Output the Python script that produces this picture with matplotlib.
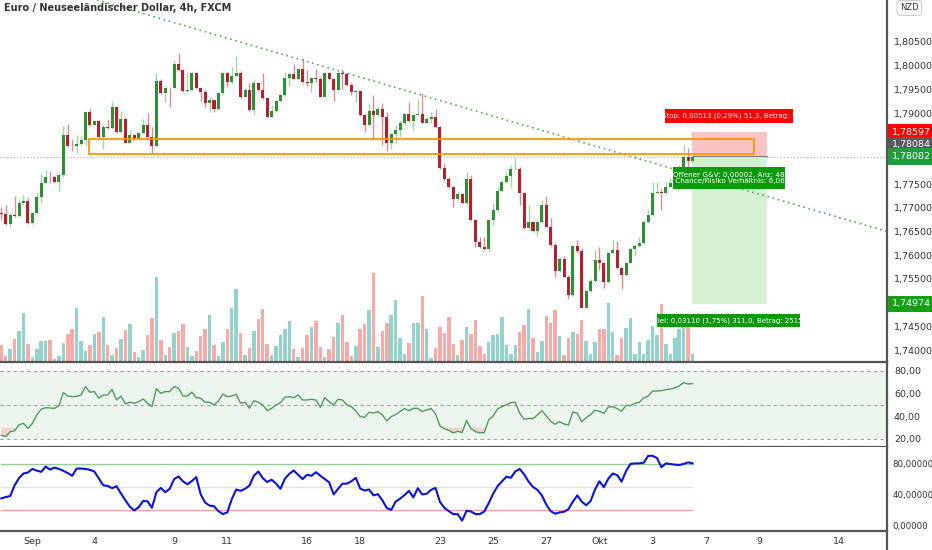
import numpy as np
import matplotlib
matplotlib.use("Agg")
import matplotlib.pyplot as plt
import matplotlib.transforms as mtransforms
from matplotlib.patches import Rectangle
from matplotlib.ticker import FuncFormatter

plt.rcParams['font.family'] = ['Liberation Sans Narrow', 'DejaVu Sans']

# --- Kerzen (4h EUR/NZD) ---
first_open = 1.76884
close = [
    1.76870, 1.76660, 1.76849, 1.76828, 1.77095, 1.77152, 1.76674, 1.76884, 1.77236, 1.77531,
    1.77657, 1.77643, 1.77552, 1.77686, 1.78536, 1.78305, 1.78298, 1.78347, 1.78431, 1.79022,
    1.78747, 1.78832, 1.78501, 1.78712, 1.78677, 1.79120, 1.78593, 1.78874, 1.78375, 1.78536,
    1.78445, 1.78586, 1.78747, 1.78501, 1.78305, 1.79675, 1.79415, 1.79535, 1.79521, 1.80034,
    1.79907, 1.79464, 1.79486, 1.79851, 1.79521, 1.79450, 1.79204, 1.79268, 1.79092, 1.79415,
    1.79837, 1.79661, 1.79781, 1.79851, 1.79345, 1.79486, 1.79064, 1.79626, 1.79486, 1.79310,
    1.78923, 1.79050, 1.79253, 1.79380, 1.79746, 1.79816, 1.79717, 1.79921, 1.79661, 1.79626,
    1.79732, 1.79717, 1.79345, 1.79851, 1.79710, 1.79486, 1.79837, 1.79816, 1.79591, 1.79450,
    1.79464, 1.78958, 1.78747, 1.79050, 1.78958, 1.79085, 1.78909, 1.78361, 1.78558, 1.78642,
    1.78782, 1.78979, 1.78839, 1.78958, 1.78979, 1.78797, 1.78881, 1.78916, 1.78698, 1.77834,
    1.77615, 1.77433, 1.77180, 1.77292, 1.77095, 1.77601, 1.76744, 1.76280, 1.76167, 1.76125,
    1.76744, 1.76955, 1.77362, 1.77552, 1.77672, 1.77812, 1.77826, 1.77306, 1.76582, 1.76709,
    1.76512, 1.76709, 1.77060, 1.76603, 1.76217, 1.75675, 1.75914, 1.75549, 1.75162, 1.76195,
    1.76097, 1.74895, 1.75246, 1.75464, 1.75900, 1.75844, 1.75443, 1.76055, 1.76111, 1.75724,
    1.75584, 1.75844, 1.76125, 1.76195, 1.76252, 1.76709, 1.76849, 1.77320, 1.77341, 1.77306,
    1.77447, 1.77531, 1.77692, 1.77869, 1.78065, 1.77995, 1.78082]
high = [
    1.77025, 1.77060, 1.76884, 1.77250, 1.77180, 1.77271, 1.77201, 1.76920, 1.77306, 1.77707,
    1.77798, 1.77784, 1.77692, 1.77728, 1.78726, 1.78768, 1.78445, 1.78536, 1.78515, 1.79050,
    1.79099, 1.78853, 1.78853, 1.78747, 1.78867, 1.79253, 1.79148, 1.79050, 1.78909, 1.78642,
    1.78558, 1.78607, 1.78867, 1.78994, 1.78698, 1.79851, 1.79710, 1.79556, 1.79542, 1.80118,
    1.80259, 1.79921, 1.79851, 1.79872, 1.79872, 1.79556, 1.79486, 1.79345, 1.79275, 1.79429,
    1.79872, 1.79858, 1.79978, 1.80203, 1.79893, 1.79521, 1.79626, 1.79710, 1.79661, 1.79851,
    1.79345, 1.79169, 1.79275, 1.79415, 1.79872, 1.79837, 1.80027, 1.79942, 1.80153, 1.79907,
    1.79753, 1.79921, 1.79767, 1.79872, 1.79858, 1.79732, 1.79851, 1.79921, 1.79851, 1.79626,
    1.79486, 1.79486, 1.78979, 1.79204, 1.79380, 1.79134, 1.79204, 1.79029, 1.78572, 1.78747,
    1.78853, 1.78994, 1.79225, 1.78979, 1.79289, 1.79415, 1.78923, 1.79022, 1.79078, 1.78726,
    1.77939, 1.77657, 1.77461, 1.77362, 1.77320, 1.77763, 1.77692, 1.76758, 1.76378, 1.76392,
    1.76779, 1.77095, 1.77447, 1.77587, 1.77763, 1.77904, 1.78044, 1.77869, 1.77341, 1.77060,
    1.76730, 1.76744, 1.77166, 1.77250, 1.76779, 1.76252, 1.75971, 1.75985, 1.75584, 1.76217,
    1.76322, 1.76146, 1.75268, 1.75492, 1.76111, 1.76181, 1.75865, 1.76076, 1.76322, 1.76301,
    1.75760, 1.75865, 1.76146, 1.76238, 1.76392, 1.76744, 1.76955, 1.77552, 1.77552, 1.77412,
    1.77552, 1.77622, 1.77834, 1.77904, 1.78326, 1.78255, 1.78115]
low = [
    1.76744, 1.76639, 1.76589, 1.76814, 1.76814, 1.77081, 1.76660, 1.76660, 1.76870, 1.77109,
    1.77517, 1.77531, 1.77531, 1.77362, 1.77657, 1.78276, 1.78206, 1.78164, 1.78333, 1.78305,
    1.78726, 1.78740, 1.78445, 1.78234, 1.78656, 1.78656, 1.78579, 1.78572, 1.78361, 1.78361,
    1.78431, 1.78445, 1.78558, 1.78487, 1.78150, 1.78290, 1.79401, 1.79239, 1.79120, 1.79521,
    1.79893, 1.79450, 1.79415, 1.79486, 1.79507, 1.79261, 1.79099, 1.79029, 1.79029, 1.79064,
    1.79394, 1.79556, 1.79640, 1.79767, 1.79310, 1.79331, 1.79050, 1.78958, 1.79471, 1.79296,
    1.78909, 1.78923, 1.79029, 1.79239, 1.79366, 1.79577, 1.79710, 1.79696, 1.79626, 1.79570,
    1.79450, 1.79661, 1.79331, 1.79331, 1.79696, 1.79261, 1.79471, 1.79500, 1.79570, 1.79380,
    1.79239, 1.78944, 1.78607, 1.78726, 1.78431, 1.78937, 1.78326, 1.78206, 1.78234, 1.78361,
    1.78501, 1.78747, 1.78818, 1.78642, 1.78958, 1.78782, 1.78782, 1.78782, 1.78677, 1.77819,
    1.77573, 1.77412, 1.77025, 1.77166, 1.77081, 1.77081, 1.76730, 1.76167, 1.76153, 1.76111,
    1.76076, 1.76639, 1.76941, 1.77362, 1.77531, 1.77433, 1.77798, 1.77060, 1.76561, 1.76533,
    1.76498, 1.76414, 1.76688, 1.76589, 1.76203, 1.75549, 1.75654, 1.75535, 1.75071, 1.75141,
    1.76041, 1.74881, 1.74881, 1.75225, 1.75443, 1.75689, 1.75303, 1.75422, 1.76041, 1.75703,
    1.75282, 1.75563, 1.75830, 1.75985, 1.76181, 1.76238, 1.76674, 1.76828, 1.77306, 1.76955,
    1.77292, 1.77433, 1.77517, 1.77657, 1.77848, 1.77869, 1.77974]
volume = [
    52, 18, 40, 68, 92, 148, 54, 15, 38, 62,
    64, 66, 10, 18, 58, 85, 100, 163, 62, 33,
    52, 84, 90, 136, 50, 20, 42, 68, 96, 115,
    30, 15, 35, 80, 132, 256, 65, 20, 44, 88,
    92, 115, 44, 18, 32, 78, 100, 142, 52, 18,
    60, 100, 162, 220, 88, 20, 42, 92, 128, 160,
    54, 20, 48, 80, 98, 122, 38, 14, 42, 80,
    104, 122, 45, 15, 38, 76, 118, 142, 60, 18,
    48, 98, 114, 156, 268, 44, 94, 118, 140, 185,
    73, 25, 58, 118, 116, 198, 100, 13, 42, 105,
    87, 134, 54, 22, 67, 106, 85, 126, 48, 24,
    60, 81, 84, 135, 52, 25, 50, 90, 110, 160,
    72, 30, 62, 138, 117, 156, 78, 22, 72, 90,
    84, 125, 64, 25, 60, 98, 98, 177, 90, 22,
    73, 102, 132, 24, 60, 25, 65, 108, 80, 175,
    55, 25, 72, 100, 120, 115, 24]
rsi = [
    23.2, 22.1, 26.5, 27.1, 32.6, 33.8, 29.4, 33.8, 41.2, 46.2,
    47.6, 47.3, 47.0, 49.4, 60.9, 57.9, 57.3, 57.6, 58.8, 66.2,
    61.2, 61.8, 55.9, 58.8, 58.8, 63.8, 54.4, 57.9, 50.9, 52.4,
    51.5, 52.9, 55.3, 51.5, 48.5, 64.4, 60.3, 61.8, 61.8, 66.2,
    64.7, 57.9, 57.9, 61.2, 56.5, 55.9, 52.4, 52.4, 50.0, 53.5,
    59.7, 57.3, 57.9, 59.4, 51.5, 52.4, 47.0, 53.8, 52.4, 50.0,
    45.0, 47.0, 50.0, 52.0, 56.8, 57.3, 56.5, 58.8, 54.4, 54.4,
    55.0, 54.4, 47.9, 56.5, 52.9, 50.0, 55.0, 54.4, 50.0, 48.5,
    44.7, 39.7, 39.1, 43.5, 42.9, 44.1, 41.2, 35.9, 39.7, 41.5,
    44.1, 46.8, 45.0, 47.0, 47.0, 44.1, 45.6, 46.8, 42.1, 31.5,
    29.1, 27.6, 25.3, 26.8, 25.6, 36.2, 29.1, 26.5, 25.3, 25.6,
    36.8, 40.3, 46.5, 48.5, 50.3, 52.0, 52.4, 42.6, 37.3, 38.2,
    37.9, 41.2, 45.0, 40.3, 35.6, 32.9, 35.3, 33.2, 32.3, 43.8,
    42.6, 35.3, 38.8, 41.5, 45.3, 44.4, 42.6, 48.2, 48.5, 46.8,
    44.4, 49.7, 49.4, 51.5, 52.4, 56.2, 57.9, 62.3, 62.3, 62.6,
    63.5, 64.1, 65.0, 66.8, 69.7, 68.5, 68.8]
osc = [
    35.6, 37.3, 38.6, 52.5, 61.8, 67.7, 69.0, 73.6, 71.5, 69.8,
    76.6, 72.8, 75.3, 73.6, 71.1, 68.2, 64.8, 74.1, 74.1, 73.6,
    72.4, 70.3, 61.4, 52.5, 51.7, 48.7, 51.3, 41.9, 33.1, 25.0,
    20.0, 24.2, 32.2, 31.8, 23.4, 43.6, 49.1, 43.6, 47.9, 60.5,
    63.9, 57.6, 53.8, 58.0, 63.1, 40.7, 30.1, 26.3, 25.5, 19.1,
    15.3, 17.5, 34.4, 47.0, 45.3, 47.9, 52.1, 64.8, 70.3, 61.8,
    56.7, 59.7, 54.6, 47.9, 61.0, 67.3, 71.5, 66.0, 60.5, 66.0,
    64.8, 69.4, 64.8, 60.5, 56.3, 40.7, 47.9, 54.6, 54.6, 57.6,
    62.2, 48.3, 45.8, 47.0, 39.4, 41.1, 33.1, 23.0, 20.8, 31.4,
    35.2, 39.8, 45.3, 36.9, 48.7, 40.7, 41.5, 46.6, 49.1, 31.0,
    23.4, 19.1, 15.3, 15.3, 6.9, 19.6, 18.7, 15.3, 15.3, 18.7,
    29.3, 41.5, 51.3, 57.6, 63.5, 62.2, 70.3, 73.6, 66.5, 57.2,
    50.4, 46.6, 39.4, 27.6, 19.1, 15.8, 17.5, 18.3, 21.7, 31.4,
    39.4, 31.4, 26.7, 32.2, 47.0, 57.6, 50.0, 61.0, 67.7, 65.6,
    57.2, 70.7, 80.0, 80.8, 80.8, 81.7, 90.5, 90.5, 87.6, 75.8,
    80.8, 80.0, 79.1, 78.7, 80.0, 82.1, 80.8]

# Datumsachse
date_pos = [7, 21, 39, 51, 69, 81, 99, 111, 123, 135, 147, 159, 171, 189]
date_lab = ['Sep', '4', '9', '11', '16', '18', '23', '25', '27', 'Okt', '3', '7', '9', '14']
price_ticks = [1.805, 1.800, 1.795, 1.790, 1.775, 1.770, 1.765, 1.760, 1.755, 1.745, 1.740]

# Zeichnungen / Positionstool
trend_p1 = (21.6, 1.81384)
trend_p2 = (199.5, 1.76510)
zone_x = (19.9, 169.8)
zone_y = (1.78135, 1.78451)
entry = 1.78084
stop = 1.78597
target = 1.74974
last_price = 1.78082
pos_x = (155.8, 172.9)

o = np.array([first_open] + close[:-1])
c = np.array(close)
h = np.array(high)
l = np.array(low)
x = np.arange(len(c))
up = c >= o

fig = plt.figure(figsize=(9.32, 5.5), dpi=100)
fig.patch.set_facecolor('white')
ax = fig.add_axes([0, 1 - 362 / 550, 887 / 932, 362 / 550])
ax_r = fig.add_axes([0, 1 - 447 / 550, 887 / 932, 85 / 550], sharex=ax)
ax_o = fig.add_axes([0, 1 - 531 / 550, 887 / 932, 84 / 550], sharex=ax)

xlim = (-0.3, 199.9)

# Volumen
ax_v = ax.twinx()
vol_col = np.where(up, '#93d3cc', '#f8aaa8')
ax_v.bar(x, volume, width=0.78, color=vol_col, edgecolor='none')
ax_v.set_ylim(0, 1086)
ax_v.set_yticks([])
for s in ax_v.spines.values():
    s.set_visible(False)
ax.set_zorder(ax_v.get_zorder() + 1)
ax.patch.set_visible(False)

# Kerzen
wick_col = np.where(up, '#a3d5a5', '#dc8d94')
body_col = np.where(up, '#2f8f35', '#b3202e')
ax.vlines(x, l, h, colors=wick_col, lw=1.0, zorder=3)
body_h = np.maximum(np.abs(c - o), 0.00005)
ax.bar(x, body_h, bottom=np.minimum(o, c), width=0.68, color=body_col,
       edgecolor='none', zorder=4)

# Trendlinie, Zone, aktueller Kurs
ax.axline(trend_p1, trend_p2, color='#4caf50', lw=1.2, ls=(0, (1, 2.2)), zorder=2)
ax.add_patch(Rectangle((zone_x[0], zone_y[0]), zone_x[1] - zone_x[0], zone_y[1] - zone_y[0],
                       fc='none', ec='#ff9800', lw=1.3, zorder=5))
ax.axhline(last_price, color='#9db59f', lw=0.8, ls=(0, (1, 2)), zorder=1)

# Short-Position
pw = pos_x[1] - pos_x[0]
ax.add_patch(Rectangle((pos_x[0], entry), pw, stop - entry, fc='#f9c4c4', ec='none', zorder=1))
ax.add_patch(Rectangle((pos_x[0], target), pw, entry - target, fc='#d6f0d4', ec='none', zorder=1))
ax.plot(pos_x, [entry, entry], color='#7d7d7d', lw=0.8, zorder=2)


def label_box(x0, x1, y0, y1, color, txt, dx=0.0, fs=5.2):
    r = Rectangle((x0, y0), x1 - x0, y1 - y0, fc=color, ec='none', zorder=8)
    ax.add_patch(r)
    t = ax.text(x0 + dx, (y0 + y1) / 2, txt, ha='left', va='center', color='white',
                fontsize=fs, zorder=9, linespacing=1.15)
    t.set_clip_path(r)


label_box(149.8, 178.7, 1.78789, 1.79084, '#ff0000',
          'Stop: 0,00513 (0,29%) 51,3, Betrag: 750,00', dx=-0.7, fs=5.0)
label_box(151.6, 176.9, 1.77398, 1.77862, '#0b9a0b',
          'Offener G&V: 0,00002, Anz: 48732,6\n Chance/Risiko Verhältnis: 6,06', dx=0.0)
label_box(148.0, 180.3, 1.74486, 1.74760, '#0b9a0b',
          'Ziel: 0,03110 (1,75%) 311,0, Betrag: 2515,59', dx=-1.0, fs=5.0)

ax.text(0.005, 0.978, 'Euro / Neuseeländischer Dollar, 4h, FXCM', transform=ax.transAxes,
        fontsize=7, color='#333333', fontweight='bold', va='center', ha='left')

# Achse Hauptchart
ax.set_xlim(*xlim)
ax.set_ylim(1.73747, 1.81384)
ax.yaxis.tick_right()
ax.set_yticks(price_ticks)
ax.yaxis.set_major_formatter(FuncFormatter(lambda v, p: f'{v:.5f}'.replace('.', ',')))
ax.tick_params(axis='y', length=0, pad=5, labelsize=6.8, labelcolor='#333333')
ax.tick_params(axis='x', bottom=False, labelbottom=False)

trans = mtransforms.blended_transform_factory(ax.transAxes, ax.transData)
for val, ypos, col in [(stop, stop, '#ff0000'), (entry, 1.78325, '#5a5a5a'),
                       (last_price, last_price, '#1f9e3a'), (target, target, '#16a016')]:
    ax.text(1.0 + 5 / 887, ypos, f'{val:.5f}'.replace('.', ','), transform=trans,
            ha='left', va='center', fontsize=6.8, color='white', clip_on=False,
            bbox=dict(boxstyle='square,pad=0.4', fc=col, ec='none'), zorder=10)
ax.text(1.0 + 13 / 887, 0.978, 'NZD', transform=ax.transAxes, fontsize=6, color='#333333',
        va='center', ha='left',
        bbox=dict(boxstyle='round,pad=0.35', fc='white', ec='#cfcfcf', lw=0.8))

# RSI
ax_r.axhspan(20, 80, color='#edf6ee', lw=0, zorder=0)
for lev in (80, 50, 20):
    ax_r.axhline(lev, color='#9e9e9e', lw=0.8, ls=(0, (3, 3)), zorder=1)
rsi_a = np.array(rsi)
ax_r.fill_between(x, rsi_a, 30, where=rsi_a < 30, color='#f6d3d3', lw=0, interpolate=True, zorder=1)
ax_r.plot(x, rsi_a, color='#4f9a5d', lw=1.0, zorder=3)
ax_r.set_ylim(12.9, 87.9)
ax_r.yaxis.tick_right()
ax_r.set_yticks([20, 40, 60, 80])
ax_r.yaxis.set_major_formatter(FuncFormatter(lambda v, p: f'{v:.2f}'.replace('.', ',')))
ax_r.tick_params(axis='y', length=0, pad=5, labelsize=6.8, labelcolor='#333333')
ax_r.tick_params(axis='x', bottom=False, labelbottom=False)

# Oszillator
ax_o.plot([x[0], x[-1]], [80, 80], color='#90cf90', lw=1.0, zorder=1)
ax_o.plot([x[0], x[-1]], [50, 50], color='#e2e2e2', lw=1.0, zorder=1)
ax_o.plot([x[0], x[-1]], [20, 20], color='#f4a0a0', lw=1.0, zorder=1)
ax_o.plot(x, osc, color='#0a14d8', lw=1.5, zorder=3)
ax_o.set_ylim(-6.5, 101.9)
ax_o.yaxis.tick_right()
ax_o.set_yticks([0, 40, 80])
ax_o.yaxis.set_major_formatter(FuncFormatter(lambda v, p: f'{v:.5f}'.replace('.', ',')))
ax_o.tick_params(axis='y', length=0, pad=4, labelsize=6.2, labelcolor='#333333')
ax_o.set_xticks(date_pos)
ax_o.set_xticklabels(date_lab)
ax_o.tick_params(axis='x', length=0, pad=4, labelsize=6.8, labelcolor='#333333')
ax_o.set_xlim(*xlim)

for a in (ax, ax_r, ax_o):
    for side in ('top', 'left'):
        a.spines[side].set_visible(False)
    a.spines['right'].set_color('#555555')
    a.spines['right'].set_linewidth(1.6)
    a.spines['bottom'].set_color('#555555')
    a.spines['bottom'].set_linewidth(1.6)

# Achsenlinie bis unten
fig.add_artist(plt.Line2D([887 / 932, 887 / 932], [0, 19 / 550], color='#555555', lw=1.6))

fig.savefig('out.png', dpi=100, facecolor='white')
